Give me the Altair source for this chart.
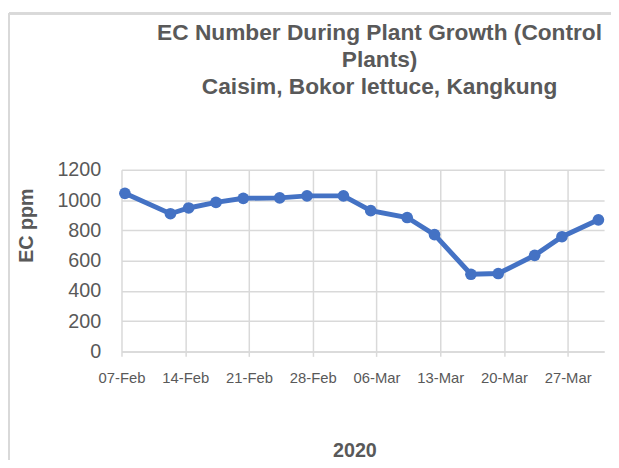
import altair as alt
import pandas as pd

dates = ["2020-02-07", "2020-02-12", "2020-02-14", "2020-02-17", "2020-02-20",
         "2020-02-24", "2020-02-27", "2020-03-02", "2020-03-05", "2020-03-09",
         "2020-03-12", "2020-03-16", "2020-03-19", "2020-03-23", "2020-03-26",
         "2020-03-30"]
ec_ppm = [1045, 910, 948, 985, 1012, 1015, 1028, 1028, 930, 885,
          772, 510, 515, 635, 758, 870]
tick_dates = ["2020-02-07", "2020-02-14", "2020-02-21", "2020-02-28",
              "2020-03-06", "2020-03-13", "2020-03-20", "2020-03-27"]
y_ticks = [0, 200, 400, 600, 800, 1000, 1200]
domain_dates = ["2020-02-07", "2020-03-31"]


def ms(s):
    return int(pd.Timestamp(s, tz="UTC").timestamp() * 1000)


df = pd.DataFrame({"date": [ms(d) + 9 * 3600 * 1000 for d in dates], "ec": ec_ppm})

TXT = "#595959"
GRID = "#d9d9d9"
BLUE = "#4472C4"

x = alt.X(
    "date:T",
    scale=alt.Scale(type="utc", domain=[ms(d) for d in domain_dates]),
    axis=alt.Axis(
        values=[ms(d) for d in tick_dates],
        labelExpr="utcFormat(datum.value, '%d-%b')",
        labelOverlap=False, labelFlush=False,
        grid=True, gridColor=GRID, gridWidth=1.5,
        domain=True, domainColor=GRID, domainWidth=1.5,
        ticks=True, tickColor=GRID, tickWidth=1.5, tickSize=5,
        labelFont="Liberation Sans", labelFontSize=15, labelColor=TXT,
        labelPadding=14,
        title="2020", titleFont="Liberation Sans", titleFontSize=20,
        titleFontWeight="bold", titleColor=TXT,
        titleX=236, titleY=100, titleAlign="center", titleBaseline="middle",
    ),
)
y = alt.Y(
    "ec:Q",
    scale=alt.Scale(domain=[0, 1200], nice=False),
    axis=alt.Axis(
        values=y_ticks, format="d",
        grid=True, gridColor=GRID, gridWidth=1.5,
        domain=False, ticks=False,
        labelFont="Liberation Sans", labelFontSize=20, labelColor=TXT,
        labelPadding=21,
        title="EC ppm", titleFont="Liberation Sans", titleFontSize=20,
        titleFontWeight="bold", titleColor=TXT,
        titleAngle=270, titleX=-96, titleY=56, titleAlign="center",
        titleBaseline="middle",
    ),
)

base = alt.Chart(df)
line = base.mark_line(color=BLUE, strokeWidth=5).encode(x=x, y=y)
pts = base.mark_circle(color=BLUE, size=140, opacity=1).encode(x=x, y=y)

border_top = alt.Chart(df).mark_rule(color=GRID, strokeWidth=2).encode(
    x=alt.value(-114), x2=alt.value(520), y=alt.value(-158.5))
border_left = alt.Chart(df).mark_rule(color=GRID, strokeWidth=2).encode(
    x=alt.value(-114), y=alt.value(-158.5), y2=alt.value(300))

chart = alt.layer(border_top, border_left, line, pts).properties(
    width=489,
    height=184,
    padding={"left": 115, "top": 161, "right": 7, "bottom": 107},
    autosize=alt.AutoSizeParams(type="none"),
    title=alt.TitleParams(
        text=["EC Number During Plant Growth (Control", "Plants)",
              "Caisim, Bokor lettuce, Kangkung"],
        anchor="middle", dx=17, offset=0, dy=87.5,
        font="Liberation Sans", fontSize=23, fontWeight="bold",
        color=TXT, lineHeight=27.5,
    ),
).configure_view(stroke=None)

chart.save("out.html", embed_options={"renderer": "svg", "actions": False})
